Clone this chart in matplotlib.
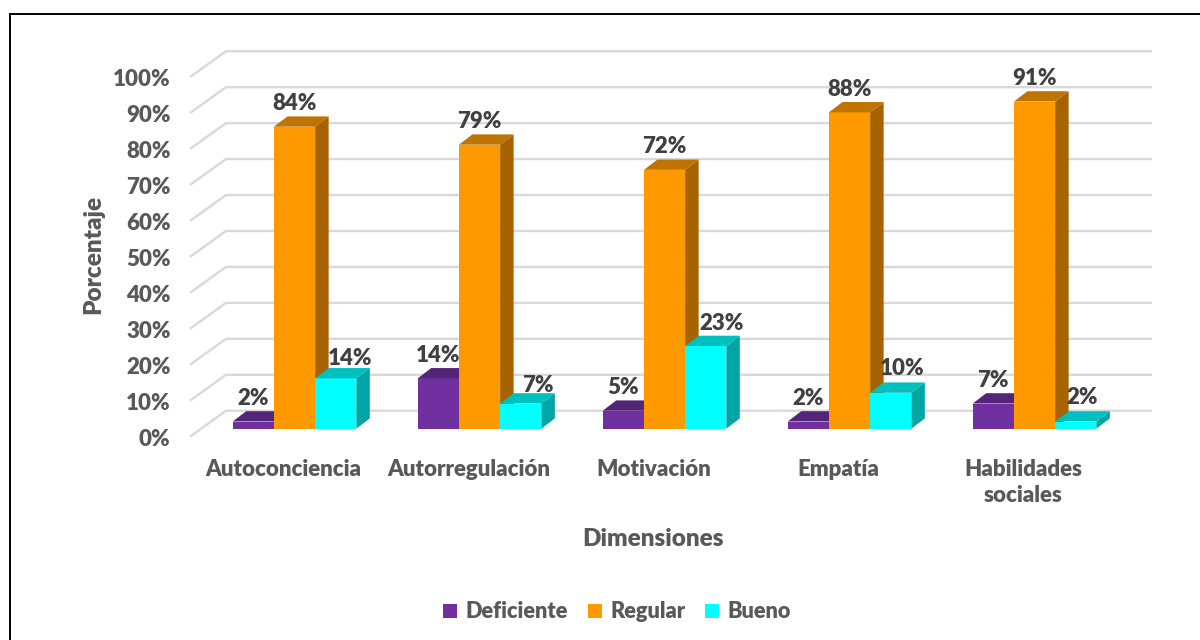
import matplotlib
matplotlib.use('Agg')
import matplotlib.pyplot as plt
from matplotlib.patches import Polygon, Rectangle
from matplotlib.transforms import ScaledTranslation

categorias = ['Autoconciencia', 'Autorregulación', 'Motivación', 'Empatía', 'Habilidades\nsociales']
deficiente = [2, 14, 5, 2, 7]
regular = [84, 79, 72, 88, 91]
bueno = [14, 7, 23, 10, 2]
series = ['Deficiente', 'Regular', 'Bueno']
yticks = list(range(0, 101, 10))

plt.rcParams['font.family'] = ['Lato', 'DejaVu Sans']

front = ['#7030A0', '#FF9900', '#00FFFF']
top = ['#542478', '#BF7300', '#00BFBF']
side = ['#3F1B5A', '#A66300', '#00A6A6']
txt = '#404040'
txt2 = '#595959'
grid = '#D9D9D9'
fs = 16
peso = 'heavy'

fig = plt.figure(figsize=(12, 6.4), dpi=100)
# one group is 185 px wide, 100% is 359.5 px tall
ax = fig.add_axes([190 / 1200, (640 - 428.7) / 640, 962 / 1200, 359.5 / 640])
ax.set_xlim(-0.565, 4.635)
ax.set_ylim(0, 100)
for s in ax.spines.values():
    s.set_visible(False)

bar_w = 41.2 / 185
dx = 13.5 / 185   # depth of the fake 3d, in data units
dy = 2.87
x_left = ax.get_xlim()[0]
x_right = ax.get_xlim()[1]

# walls: gridline runs along the floor then back along the wall
for t in yticks:
    ax.plot([x_left, x_left + 36 / 185, x_right], [t - 2.2, t + 5, t + 5],
            color=grid, lw=1.7, zorder=1, clip_on=False, solid_capstyle='butt')

# cyan labels were dragged off their bar in the original, offsets in px
cyan_dx = [14, 17, 16, 11, 6]
cyan_dy = [22, 20, 25, 26, 26]
for j, vals in enumerate([deficiente, regular, bueno]):
    pos = [i + (j - 1) * bar_w for i in range(len(categorias))]
    ax.bar(pos, vals, bar_w, color=front[j], label=series[j], zorder=3 + j, lw=0)
    for k, (x, v) in enumerate(zip(pos, vals)):
        l, r = x - bar_w / 2, x + bar_w / 2
        ax.add_patch(Polygon([(r, 0), (r + dx, dy), (r + dx, v + dy), (r, v)],
                             fc=side[j], ec='none', zorder=3 + j, clip_on=False))
        ax.add_patch(Polygon([(l, v), (l + dx, v + dy), (r + dx, v + dy), (r, v)],
                             fc=top[j], ec='none', zorder=3 + j, clip_on=False))
        off = (cyan_dx[k], cyan_dy[k]) if j == 2 else (0, 25)
        ax.annotate(f'{v}%', (x, v), xytext=off, textcoords='offset pixels',
                    ha='center', va='center_baseline', fontsize=fs, fontweight=peso, color=txt, zorder=10)

ax.set_yticks(yticks)
ax.set_yticklabels([f'{t}%' for t in yticks], fontsize=fs, fontweight=peso, color=txt2)
ax.tick_params(axis='y', length=0, pad=14)
shift = ScaledTranslation(0, -8.5 / 100, fig.dpi_scale_trans)
for lab in ax.get_yticklabels():
    lab.set_transform(lab.get_transform() + shift)

ax.set_xticks([i - 0.06 for i in range(len(categorias))])
ax.set_xticklabels(categorias, fontsize=fs, fontweight=peso, color=txt2, linespacing=1.3)
ax.tick_params(axis='x', length=0, pad=22)

ax.set_ylabel('Porcentaje', fontsize=17.5, fontweight=peso, color=txt2)
ax.yaxis.set_label_coords(-86 / 962, 0.485)
ax.set_xlabel('Dimensiones', fontsize=17.5, fontweight=peso, color=txt2)
ax.xaxis.set_label_coords(463 / 962, -110 / 359.5)
ax.xaxis.label.set_va('center')

leg = fig.legend(loc='center', bbox_to_anchor=(617 / 1200, 1 - 612 / 640), ncol=3, frameon=False,
                 handlelength=0.65, handleheight=0.65, handletextpad=0.38,
                 columnspacing=0.9, prop={'weight': peso, 'size': 15.7})
for t in leg.get_texts():
    t.set_color(txt2)

# outer frame of the pasted picture
fig.add_artist(Rectangle((10 / 1200, -0.1), 1.1, 1.1 - 14 / 640, transform=fig.transFigure,
                         fill=False, ec='black', lw=1.4))

fig.savefig('out.png', dpi=100)
